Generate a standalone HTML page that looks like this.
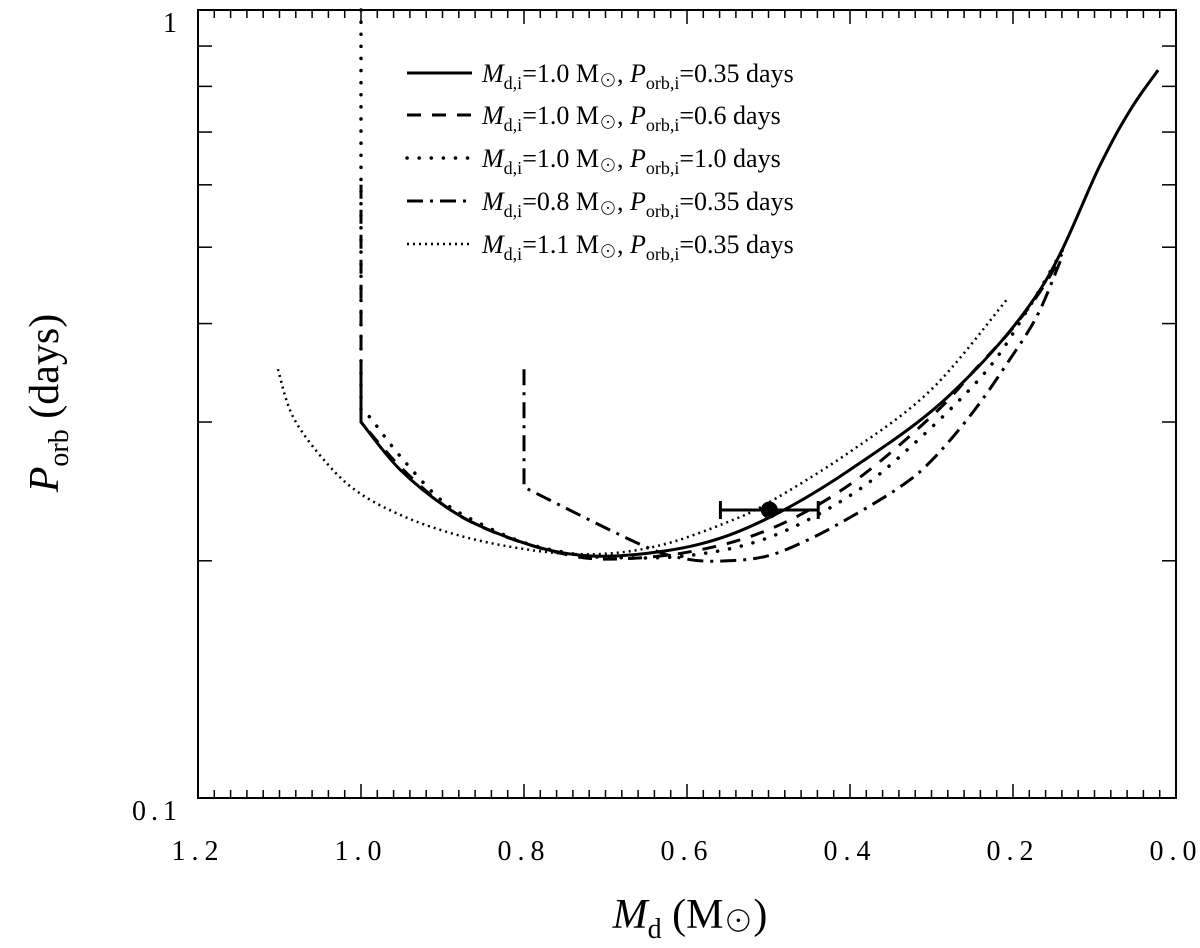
<!DOCTYPE html>
<html><head><meta charset="utf-8"><style>
body{margin:0;background:#fff}
svg{display:block}
text{font-family:"Liberation Serif","Noto Serif CJK SC",serif;fill:#000}
</style></head><body>
<svg id="c" width="1200" height="948" viewBox="0 0 1200 948"></svg>
<script>
const massSolid=[1.0,1.0,0.952,0.890,0.829,0.756,0.682,0.584,0.499,0.400,0.277,0.167,0.093,0.056,0.022];
const perSolid=[0.35,0.30,0.261,0.232,0.216,0.205,0.203,0.210,0.227,0.261,0.325,0.441,0.636,0.747,0.839];
const massDash=[1.0,1.0,0.95,0.89,0.83,0.76,0.70,0.60,0.50,0.40,0.30,0.244,0.20,0.163,0.14];
const perDash=[0.6,0.30,0.262,0.232,0.216,0.205,0.201,0.205,0.219,0.250,0.305,0.352,0.395,0.445,0.49];
const massDot=[1.0,1.0,0.99,0.95,0.90,0.85,0.80,0.75,0.70,0.60,0.50,0.40,0.324,0.234,0.18,0.134];
const perDot=[1.0,0.31,0.305,0.27,0.238,0.222,0.211,0.205,0.202,0.203,0.214,0.242,0.280,0.347,0.42,0.507];
const massDD=[0.8,0.8,0.658,0.60,0.55,0.50,0.45,0.40,0.339,0.30,0.25,0.204,0.17,0.142];
const perDD=[0.35,0.248,0.21,0.201,0.200,0.203,0.213,0.227,0.248,0.268,0.308,0.36,0.41,0.48];
const massFine=[1.102,1.083,1.042,1.0,0.94,0.87,0.80,0.74,0.68,0.62,0.55,0.50,0.40,0.30,0.206];
const perFine=[0.35,0.304,0.266,0.243,0.226,0.214,0.207,0.204,0.205,0.211,0.224,0.237,0.275,0.33,0.431];
const obsMass=[0.499], obsPer=[0.232], obsMassErr=[0.06];
const xTicks=["1.2","1.0","0.8","0.6","0.4","0.2","0.0"], xTickVals=[1.2,1.0,0.8,0.6,0.4,0.2,0.0];
const yLabels=["1","0.1"], yLabelVals=[1,0.1];

const L=198,R=1176,T=10,B=798;
const X=m=>R-(m/1.2)*(R-L);
const Y=p=>T+(-Math.log10(p))*(B-T);
const svg=document.getElementById('c');
const NS='http://www.w3.org/2000/svg';
function mk(tag,attrs,parent){const e=document.createElementNS(NS,tag);for(const k in attrs)e.setAttribute(k,attrs[k]);(parent||svg).appendChild(e);return e;}

const fr=mk('rect',{x:L,y:T,width:R-L,height:B-T,fill:'none',stroke:'#000','stroke-width':2});


const ticksG=mk('g',{stroke:'#000','stroke-width':1.5});


for(let i=0;i<=60;i++){const m=i*0.02,x=X(m),len=(i%10===0)?14:8;
 mk('line',{x1:x,y1:B,x2:x,y2:B-len},ticksG);mk('line',{x1:x,y1:T,x2:x,y2:T+len},ticksG);}
for(let k=2;k<=9;k++){const y=Y(k/10);mk('line',{x1:L,y1:y,x2:L+14,y2:y},ticksG);mk('line',{x1:R,y1:y,x2:R-14,y2:y},ticksG);}
xTicks.forEach((t,i)=>{const tx=mk('text',{x:X(xTickVals[i]),y:860,'font-size':28,'text-anchor':'middle','letter-spacing':'6'});tx.textContent=t;
 
 });
yLabels.forEach((t,i)=>{const tx=mk('text',{x:182,y:Y(yLabelVals[i])+22,'font-size':28,'text-anchor':'end','letter-spacing':'5'});tx.textContent=t;
 
 });

function smoothPath(pts){
 let d='M'+pts[0][0].toFixed(1)+','+pts[0][1].toFixed(1);
 for(let i=0;i<pts.length-1;i++){
  const p0=pts[i],p1=pts[i+1];
  if(Math.abs(p0[0]-p1[0])<0.5){d+=' L'+p1[0].toFixed(1)+','+p1[1].toFixed(1);continue;}
  const pm=(i>0&&Math.abs(pts[i-1][0]-p0[0])>0.5)?pts[i-1]:p0;
  const p2=pts[i+2]||p1;
  const c1=[p0[0]+(p1[0]-pm[0])/6,p0[1]+(p1[1]-pm[1])/6];
  const c2=[p1[0]-(p2[0]-p0[0])/6,p1[1]-(p2[1]-p0[1])/6];
  d+=' C'+c1[0].toFixed(1)+','+c1[1].toFixed(1)+' '+c2[0].toFixed(1)+','+c2[1].toFixed(1)+' '+p1[0].toFixed(1)+','+p1[1].toFixed(1);
 }
 return d;}
function series(ms,ps,style,name){const pts=ms.map((m,i)=>[X(m),Y(ps[i])]);
 const p=mk('path',Object.assign({d:smoothPath(pts),fill:'none',stroke:'#000'},style));
 
 }
const stSolid={'stroke-width':3};
const stDash={'stroke-width':3,'stroke-dasharray':'14 11'};
const stDot={'stroke-width':3.5,'stroke-dasharray':'0.1 12','stroke-linecap':'round'};
const stDD={'stroke-width':3,'stroke-dasharray':'16 7 3 7','stroke-linecap':'butt'};
const stFine={'stroke-width':2.5,'stroke-dasharray':'2 4','stroke-linecap':'butt'};
series(massFine,perFine,stFine,'series-md1.1-p0.35');
series(massDot,perDot,stDot,'series-md1.0-p1.0');
series(massDash,perDash,stDash,'series-md1.0-p0.6');
series(massDD,perDD,stDD,'series-md0.8-p0.35');
series(massSolid,perSolid,stSolid,'series-md1.0-p0.35');

const eg=mk('g',{stroke:'#000','stroke-width':3});


const ox=X(obsMass[0]),oy=Y(obsPer[0]),x1=X(obsMass[0]+obsMassErr[0]),x2=X(obsMass[0]-obsMassErr[0]);
mk('line',{x1:x1,y1:oy,x2:x2,y2:oy},eg);mk('line',{x1:x1,y1:oy-9,x2:x1,y2:oy+9},eg);mk('line',{x1:x2,y1:oy-9,x2:x2,y2:oy+9},eg);
const dot=mk('circle',{cx:ox,cy:oy,r:8.5,fill:'#000'});



const legStyles=[stSolid,stDash,stDot,stDD,stFine];
const legM=["1.0","1.0","1.0","0.8","1.1"],legP=["0.35","0.6","1.0","0.35","0.35"];
const legY=[73,115,158,201,244];
legStyles.forEach((s,i)=>{const g=mk('g',{});
 
 
 mk('line',Object.assign({x1:407,y1:legY[i],x2:472,y2:legY[i],stroke:'#000'},s),g);
 const t=mk('text',{x:482,y:legY[i]+9,'font-size':26},g);
 t.innerHTML='<tspan font-style="italic">M</tspan><tspan font-size="18" dy="7">d,i</tspan><tspan dy="-7">='+legM[i]+' M</tspan><tspan font-size="18" dy="5">⊙</tspan><tspan dy="-5">, </tspan><tspan font-style="italic">P</tspan><tspan font-size="18" dy="7">orb,i</tspan><tspan dy="-7">='+legP[i]+' days</tspan>';});

const xt=mk('text',{x:690,y:928,'font-size':42,'text-anchor':'middle'});
xt.innerHTML='<tspan font-style="italic">M</tspan><tspan font-size="28" dy="10">d</tspan><tspan dy="-10"> (M</tspan><tspan font-size="30" dy="4">⊙</tspan><tspan dy="-4">)</tspan>';


const yt=mk('text',{x:0,y:0,'font-size':42,'text-anchor':'middle',transform:'translate(58,403) rotate(-90)'});
yt.innerHTML='<tspan font-style="italic">P</tspan><tspan font-size="28" dy="10">orb</tspan><tspan dy="-10"> (days)</tspan>';


</script>
</body></html>
